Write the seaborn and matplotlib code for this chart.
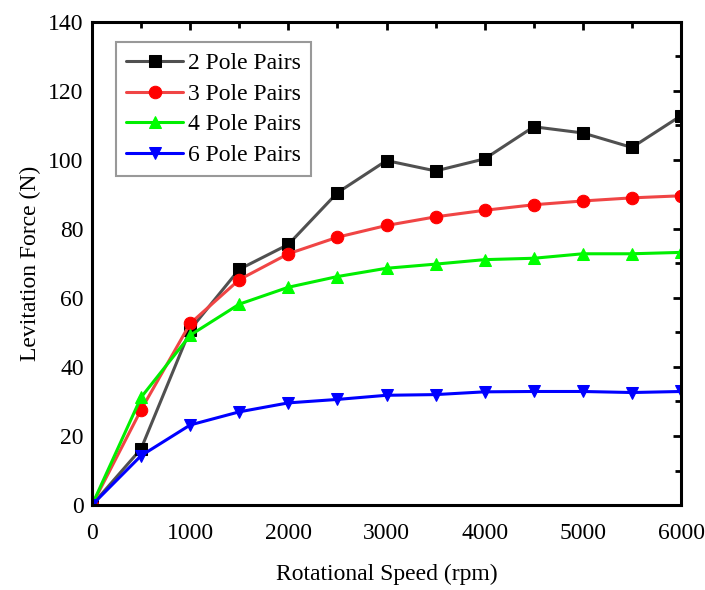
import matplotlib
matplotlib.use("Agg")
import matplotlib.pyplot as plt
import seaborn as sns
import pandas as pd
from matplotlib.ticker import MultipleLocator

speed = [0, 500, 1000, 1500, 2000, 2500, 3000, 3500, 4000, 4500, 5000, 5500, 6000]
pole2 = [0, 16.3, 50.8, 68.3, 75.5, 90.5, 99.8, 96.8, 100.3, 109.6, 107.8, 103.6, 112.8]
pole3 = [0, 27.6, 52.6, 65.3, 72.8, 77.6, 81.0, 83.5, 85.4, 87.0, 88.1, 89.0, 89.6]
pole4 = [0, 31.2, 49.2, 58.2, 63.1, 66.2, 68.6, 69.8, 71.1, 71.5, 72.8, 72.8, 73.2]
pole6 = [0, 14.3, 23.2, 27.0, 29.6, 30.6, 31.8, 32.0, 32.8, 32.9, 32.9, 32.6, 32.9]
labels = ["2 Pole Pairs", "3 Pole Pairs", "4 Pole Pairs", "6 Pole Pairs"]

sns.set_style("white")
plt.rcParams['font.family'] = ['Liberation Serif', 'DejaVu Serif']
plt.rcParams['text.color'] = 'black'
plt.rcParams['axes.labelcolor'] = 'black'
plt.rcParams['xtick.color'] = 'black'
plt.rcParams['ytick.color'] = 'black'

fig = plt.figure(figsize=(7.05, 5.9), dpi=100)
ax = fig.add_axes([0.1305, 0.144, 0.8355, 0.819])

series = [pole2, pole3, pole4, pole6]
line_colors = ["#505050", "#f04545", "#00ee00", "#0000ff"]
marker_colors = ["#000000", "#ff0000", "#00ff00", "#0000ff"]
markers = ["s", "o", "^", "v"]

for vals, lab, lc, mc, mk in zip(series, labels, line_colors, marker_colors, markers):
    df = pd.DataFrame({"speed": speed, "force": vals})
    sns.lineplot(data=df, x="speed", y="force", ax=ax, color=lc, marker=mk,
                 markersize=9, markerfacecolor=mc, markeredgecolor=mc,
                 linewidth=2.2, label=lab)

ax.set_xlim(0, 6000)
ax.set_ylim(0, 140)
ax.xaxis.set_major_locator(MultipleLocator(1000))
ax.xaxis.set_minor_locator(MultipleLocator(500))
ax.yaxis.set_major_locator(MultipleLocator(20))
ax.yaxis.set_minor_locator(MultipleLocator(10))
ax.tick_params(which='both', direction='in', top=True, right=True, width=2,
               labelsize=17, colors='black')
ax.tick_params(which='major', length=6)
ax.tick_params(which='minor', length=4)
ax.tick_params(axis='x', pad=13)
ax.tick_params(axis='y', pad=6)
for sp in ax.spines.values():
    sp.set_linewidth(2.2)
    sp.set_color('black')
ax.set_xlabel("Rotational Speed (rpm)", fontsize=17, labelpad=14)
ax.set_ylabel("Levitation Force (N)", fontsize=17, labelpad=5)

leg = ax.legend(loc='upper left', bbox_to_anchor=(0.04, 0.958), fontsize=17,
                frameon=True, fancybox=False, edgecolor='#808080',
                handlelength=2.4, handletextpad=0.2, borderpad=0.45, labelspacing=0.38,
                borderaxespad=0)
leg.get_frame().set_linewidth(1.5)

fig.savefig("out.png", dpi=100)
